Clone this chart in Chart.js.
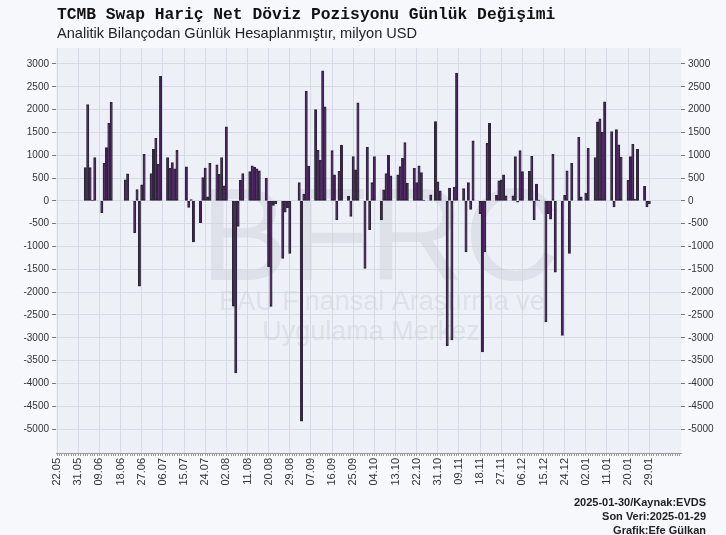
<!DOCTYPE html>
<html>
<head>
<meta charset="utf-8">
<title>TCMB Swap Hariç Net Döviz Pozisyonu</title>
<script src="https://cdn.jsdelivr.net/npm/chart.js@4.4.1/dist/chart.umd.min.js"></script>
<style>
  html, body { margin: 0; padding: 0; background: #f7f8fc; }
  #wrap { position: relative; width: 726px; height: 535px; }
  #title { position: absolute; left: 57px; top: 5px; font: bold 16.3px/20px "Liberation Mono", monospace; color: #111; white-space: nowrap; }
  #subtitle { position: absolute; left: 57px; top: 24px; font: 14.6px/18px "Liberation Sans", Arial, sans-serif; color: #222; white-space: nowrap; }
  #notes { position: absolute; right: 20px; top: 495px; text-align: right; font: bold 11px/14px "Liberation Sans", Arial, sans-serif; color: #222; }
</style>
</head>
<body>
<div id="wrap">
  <canvas id="myChart" width="726" height="535"></canvas>
  <div id="title">TCMB Swap Hariç Net Döviz Pozisyonu Günlük Değişimi</div>
  <div id="subtitle">Analitik Bilançodan Günlük Hesaplanmıştır, milyon USD</div>
  <div id="notes">2025-01-30/Kaynak:EVDS<br>Son Veri:2025-01-29<br>Grafik:Efe Gülkan</div>
</div>

<script>
  // axis runs day by day
  const firstDay = '2024-05-22';
  const lastDay = '2025-02-11';

  const tickLabels = ['22.05', '31.05', '09.06', '18.06', '27.06', '06.07', '15.07', '24.07', '02.08',
    '11.08', '20.08', '29.08', '07.09', '16.09', '25.09', '04.10', '13.10', '22.10', '31.10',
    '09.11', '18.11', '27.11', '06.12', '15.12', '24.12', '02.01', '11.01', '20.01', '29.01'];

  const yTicks = [-5000, -4500, -4000, -3500, -3000, -2500, -2000, -1500, -1000, -500,
    0, 500, 1000, 1500, 2000, 2500, 3000];

  // monday of each week, then mon..fri values (milyon USD), null = no data / holiday
  const weekStart = [
    '2024-06-03', '2024-06-10', '2024-06-17', '2024-06-24', '2024-07-01', '2024-07-08',
    '2024-07-15', '2024-07-22', '2024-07-29', '2024-08-05', '2024-08-12', '2024-08-19',
    '2024-08-26', '2024-09-02', '2024-09-09', '2024-09-16', '2024-09-23', '2024-09-30',
    '2024-10-07', '2024-10-14', '2024-10-21', '2024-10-28', '2024-11-04', '2024-11-11',
    '2024-11-18', '2024-11-25', '2024-12-02', '2024-12-09', '2024-12-16', '2024-12-23',
    '2024-12-30', '2025-01-06', '2025-01-13', '2025-01-20', '2025-01-27'
  ];
  const weekValues = [
    [730, 2110, 730, 10, 950],
    [-260, 820, 1170, 1700, 2160],
    [null, null, null, 460, 590],
    [-700, 250, -1870, 350, 1020],
    [600, 1130, 1370, 800, 2730],
    [950, 715, 840, 700, 1110],
    [null, 745, -146, 30, -900],
    [-480, 510, 720, 90, 820],
    [790, 580, 950, 330, 1620],
    [-2310, -3770, -560, 450, 600],
    [640, 770, 740, 700, 660],
    [500, -1440, -2315, -100, -60],
    [-1260, -250, -150, -1150, null],
    [400, -4830, 150, 2400, 760],
    [2000, 1110, 890, 2850, 2060],
    [1100, 570, -420, 650, 1220],
    [100, -340, 970, 680, 2150],
    [-1480, 1180, -630, 400, 970],
    [-420, 240, 600, 1000, 550],
    [570, 750, 930, 1280, 390],
    [715, 400, 770, 620, 20],
    [130, null, 1740, 420, 220],
    [-3175, 280, -3045, 300, 2800],
    [270, -1120, 400, -190, 1315],
    [-280, -3310, -1120, 1260, 1700],
    [120, 440, 460, 570, 110],
    [110, 970, -30, 1100, 640],
    [650, 975, -420, 370, 20],
    [-2650, -280, -400, 1020, -1560],
    [-2950, 120, 660, -1150, 820],
    [1390, 90, null, 170, 1150],
    [950, 1730, 1800, 1510, 2170],
    [1520, -130, 1560, 1230, 960],
    [450, 970, 1240, 40, 1130],
    [320, -130, -60, null, null]
  ];

  const DAY = 86400000;
  const t0 = Date.parse(firstDay + 'T00:00:00Z');
  const nDays = (Date.parse(lastDay + 'T00:00:00Z') - t0) / DAY + 1;

  const labels = [];
  const values = [];
  for (let i = 0; i < nDays; i++) {
    const d = new Date(t0 + i * DAY);
    labels.push(String(d.getUTCDate()).padStart(2, '0') + '.' + String(d.getUTCMonth() + 1).padStart(2, '0'));
    values.push(null);
  }
  weekStart.forEach((w, k) => {
    const idx = (Date.parse(w + 'T00:00:00Z') - t0) / DAY;
    weekValues[k].forEach((v, j) => { values[idx + j] = v; });
  });

  const isTick = i => tickLabels.includes(labels[i]);

  const plotBg = {
    id: 'plotBg',
    beforeDraw(chart) {
      const a = chart.chartArea, ctx = chart.ctx;
      ctx.save();
      ctx.fillStyle = '#eef0f8';
      ctx.fillRect(a.left, a.top, a.right - a.left, a.bottom - a.top);
      ctx.restore();
    },
    beforeDatasetsDraw(chart) {
      // faint BFRC watermark
      const ctx = chart.ctx;
      ctx.save();
      ctx.textAlign = 'center';
      ctx.textBaseline = 'alphabetic';
      ctx.fillStyle = 'rgba(205,209,220,0.5)';
      ctx.font = '132px "Liberation Sans", Arial, sans-serif';
      ctx.fillText('BFRC', 380, 280);
      ctx.font = '27px "Liberation Sans", Arial, sans-serif';
      ctx.fillText('BAU Finansal Araştırma ve', 382, 310);
      ctx.fillText('Uygulama Merkezi', 374, 340);
      ctx.restore();
    }
  };

  const font = { family: '"Liberation Sans", Arial, sans-serif', size: 10 };
  const setYTicks = s => { s.ticks = yTicks.map(v => ({ value: v })); };

  new Chart(document.getElementById('myChart').getContext('2d'), {
    type: 'bar',
    data: {
      labels: labels,
      datasets: [{
        data: values,
        backgroundColor: '#461b5b',
        borderColor: '#2d2638',
        borderWidth: 1,
        borderSkipped: false,
        barPercentage: 1,
        categoryPercentage: 1
      }]
    },
    options: {
      responsive: false,
      animation: false,
      devicePixelRatio: 1,
      layout: { padding: { top: 48, left: 0, right: 0, bottom: 0 } },
      plugins: { legend: { display: false }, tooltip: { enabled: false } },
      scales: {
        x: {
          offset: true,
          grid: {
            offset: false,
            color: c => isTick(c.index) ? '#d6dae6' : 'rgba(0,0,0,0)',
            tickColor: '#9a9a9a',
            tickLength: 3
          },
          border: { display: true, color: '#9a9a9a' },
          ticks: {
            autoSkip: false,
            maxRotation: 90,
            minRotation: 90,
            padding: 2,
            color: '#333',
            font: { family: font.family, size: 11 },
            callback: (v, i) => isTick(i) ? labels[i] : ''
          },
          afterFit: s => { s.height = 82; }
        },
        y: {
          position: 'left',
          min: -5525,
          max: 3350,
          afterBuildTicks: setYTicks,
          grid: { color: '#d6dae6', tickColor: '#777', tickLength: 4 },
          border: { display: false },
          ticks: { color: '#333', font: font, padding: 3, callback: v => String(v) },
          afterFit: s => { s.width = 56; }
        },
        y2: {
          position: 'right',
          min: -5525,
          max: 3350,
          afterBuildTicks: setYTicks,
          grid: { drawOnChartArea: false, tickColor: '#777', tickLength: 4 },
          border: { display: false },
          ticks: { color: '#333', font: font, padding: 3, callback: v => String(v) },
          afterFit: s => { s.width = 45; }
        }
      }
    },
    plugins: [plotBg]
  });
</script>
</body>
</html>
